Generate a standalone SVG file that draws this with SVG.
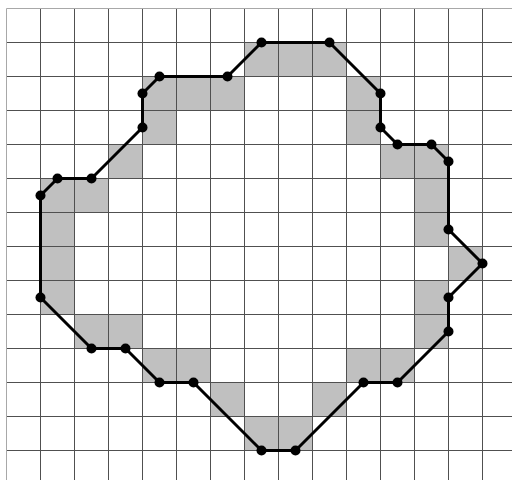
<svg xmlns="http://www.w3.org/2000/svg" width="512" height="480" viewBox="0 0 512 480">
<style>
.cell{fill:#c0c0c0}
.grid{stroke:#505050;stroke-width:1;fill:none}
.edge{stroke:#a8a8a8;stroke-width:1;fill:none}
.outline{stroke:#000;stroke-width:3;fill:none;stroke-linejoin:round}
.v{fill:#000}
</style>
<rect width="512" height="480" fill="#fff"/>
<g id="cells">
<rect class="cell" x="244.5" y="42.5" width="102" height="34"/>
<rect class="cell" x="142.5" y="76.5" width="102" height="34"/>
<rect class="cell" x="346.5" y="76.5" width="34" height="68"/>
<rect class="cell" x="142.5" y="110.5" width="34" height="34"/>
<rect class="cell" x="108.5" y="144.5" width="34" height="34"/>
<rect class="cell" x="380.5" y="144.5" width="68" height="34"/>
<rect class="cell" x="40.5" y="178.5" width="68" height="34"/>
<rect class="cell" x="40.5" y="212.5" width="34" height="102"/>
<rect class="cell" x="414.5" y="178.5" width="34" height="68"/>
<rect class="cell" x="448.5" y="246.5" width="34" height="34"/>
<rect class="cell" x="414.5" y="280.5" width="34" height="68"/>
<rect class="cell" x="74.5" y="314.5" width="68" height="34"/>
<rect class="cell" x="142.5" y="348.5" width="68" height="34"/>
<rect class="cell" x="346.5" y="348.5" width="68" height="34"/>
<rect class="cell" x="210.5" y="382.5" width="34" height="34"/>
<rect class="cell" x="312.5" y="382.5" width="34" height="34"/>
<rect class="cell" x="244.5" y="416.5" width="68" height="34"/>
</g>
<g id="grid">
<path class="grid" d="M40.5 8.5V480M74.5 8.5V480M108.5 8.5V480M142.5 8.5V480M176.5 8.5V480M210.5 8.5V480M244.5 8.5V480M278.5 8.5V480M312.5 8.5V480M346.5 8.5V480M380.5 8.5V480M414.5 8.5V480M448.5 8.5V480M482.5 8.5V480M6.5 42.5H512M6.5 76.5H512M6.5 110.5H512M6.5 144.5H512M6.5 178.5H512M6.5 212.5H512M6.5 246.5H512M6.5 280.5H512M6.5 314.5H512M6.5 348.5H512M6.5 382.5H512M6.5 416.5H512M6.5 450.5H512"/>
<path class="edge" d="M6.5 8.5V480M6.5 8.5H512"/>
</g>
<g id="connectors">
<polygon class="outline" points="261.5,42.5 329.5,42.5 380.5,93.5 380.5,127.5 397.5,144.5 431.5,144.5 448.5,161.5 448.5,229.5 482.5,263.5 448.5,297.5 448.5,331.5 397.5,382.5 363.5,382.5 295.5,450.5 261.5,450.5 193.5,382.5 159.5,382.5 125.5,348.5 91.5,348.5 40.5,297.5 40.5,195.5 57.5,178.5 91.5,178.5 142.5,127.5 142.5,93.5 159.5,76.5 227.5,76.5"/>
</g>
<g id="vertices">
<circle id="v1" class="v" cx="261.5" cy="42.5" r="5"/>
<circle id="v2" class="v" cx="329.5" cy="42.5" r="5"/>
<circle id="v3" class="v" cx="380.5" cy="93.5" r="5"/>
<circle id="v4" class="v" cx="380.5" cy="127.5" r="5"/>
<circle id="v5" class="v" cx="397.5" cy="144.5" r="5"/>
<circle id="v6" class="v" cx="431.5" cy="144.5" r="5"/>
<circle id="v7" class="v" cx="448.5" cy="161.5" r="5"/>
<circle id="v8" class="v" cx="448.5" cy="229.5" r="5"/>
<circle id="v9" class="v" cx="482.5" cy="263.5" r="5"/>
<circle id="v10" class="v" cx="448.5" cy="297.5" r="5"/>
<circle id="v11" class="v" cx="448.5" cy="331.5" r="5"/>
<circle id="v12" class="v" cx="397.5" cy="382.5" r="5"/>
<circle id="v13" class="v" cx="363.5" cy="382.5" r="5"/>
<circle id="v14" class="v" cx="295.5" cy="450.5" r="5"/>
<circle id="v15" class="v" cx="261.5" cy="450.5" r="5"/>
<circle id="v16" class="v" cx="193.5" cy="382.5" r="5"/>
<circle id="v17" class="v" cx="159.5" cy="382.5" r="5"/>
<circle id="v18" class="v" cx="125.5" cy="348.5" r="5"/>
<circle id="v19" class="v" cx="91.5" cy="348.5" r="5"/>
<circle id="v20" class="v" cx="40.5" cy="297.5" r="5"/>
<circle id="v21" class="v" cx="40.5" cy="195.5" r="5"/>
<circle id="v22" class="v" cx="57.5" cy="178.5" r="5"/>
<circle id="v23" class="v" cx="91.5" cy="178.5" r="5"/>
<circle id="v24" class="v" cx="142.5" cy="127.5" r="5"/>
<circle id="v25" class="v" cx="142.5" cy="93.5" r="5"/>
<circle id="v26" class="v" cx="159.5" cy="76.5" r="5"/>
<circle id="v27" class="v" cx="227.5" cy="76.5" r="5"/>
</g>
</svg>
